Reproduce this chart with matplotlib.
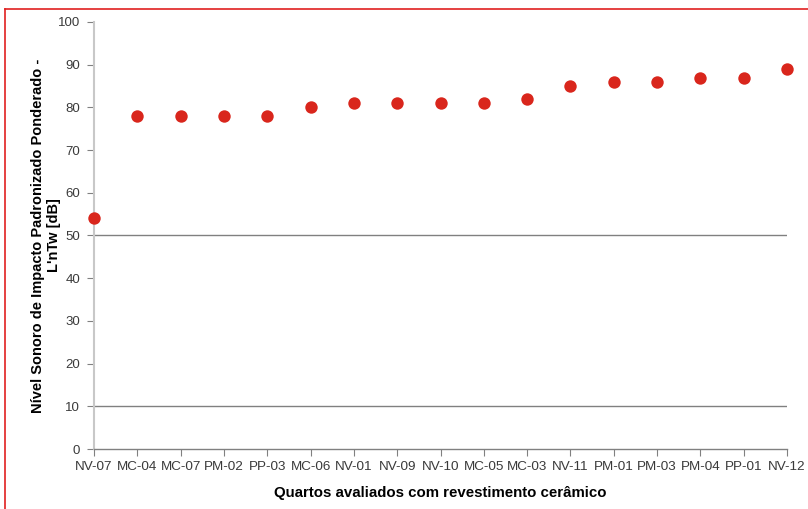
import matplotlib
matplotlib.use("Agg")
import matplotlib.pyplot as plt
from matplotlib.lines import Line2D

categories = ["NV-07", "MC-04", "MC-07", "PM-02", "PP-03", "MC-06", "NV-01", "NV-09",
              "NV-10", "MC-05", "MC-03", "NV-11", "PM-01", "PM-03", "PM-04", "PP-01", "NV-12"]
values = [54, 78, 78, 78, 78, 80, 81, 81, 81, 81, 82, 85, 86, 86, 87, 87, 89]
yticks = [0, 10, 20, 30, 40, 50, 60, 70, 80, 90, 100]
gridlines = [10, 50]

plt.rcParams['font.family'] = ['Liberation Sans', 'DejaVu Sans']

fig = plt.figure(figsize=(8.08, 5.09), dpi=100)
ax = fig.add_axes([94/808, 1 - 449/509, (787 - 94)/808, (449 - 22)/509])

x = list(range(len(categories)))
ax.scatter(x, values, s=80, color="#d9261c", zorder=5, clip_on=False, linewidths=0)

for g in gridlines:
    ax.axhline(g, color="#808080", lw=1.0, zorder=1)

ax.set_xlim(0, len(categories) - 1)
ax.set_ylim(0, 100)
ax.set_yticks(yticks)
ax.set_xticks(x)
ax.set_xticklabels(categories)

for s in ["top", "right"]:
    ax.spines[s].set_visible(False)
ax.spines["left"].set_color("#c8c8c8")
ax.spines["left"].set_linewidth(1.5)
ax.spines["bottom"].set_color("#808080")
ax.spines["bottom"].set_linewidth(1.0)

ax.tick_params(axis="y", length=5, color="#808080", labelsize=9.5, labelcolor="#3a3a3a", pad=5)
ax.tick_params(axis="x", length=5, color="#808080", labelsize=9.7, labelcolor="#3a3a3a", pad=4)

ax.set_xlabel("Quartos avaliados com revestimento cerâmico", fontsize=10.8, fontweight="bold",
              labelpad=9)
ax.set_ylabel("Nível Sonoro de Impacto Padronizado Ponderado -\nL'nTw [dB]", fontsize=10.5,
              fontweight="bold", labelpad=-2, linespacing=1.15)

# red frame (top and left edges visible)
fig.add_artist(Line2D([5/808, 1], [1 - 9/509, 1 - 9/509], transform=fig.transFigure,
                      color="#e02020", lw=1.2))
fig.add_artist(Line2D([5/808, 5/808], [0, 1 - 9/509], transform=fig.transFigure,
                      color="#e02020", lw=1.2))

fig.savefig("out.png", dpi=100)
